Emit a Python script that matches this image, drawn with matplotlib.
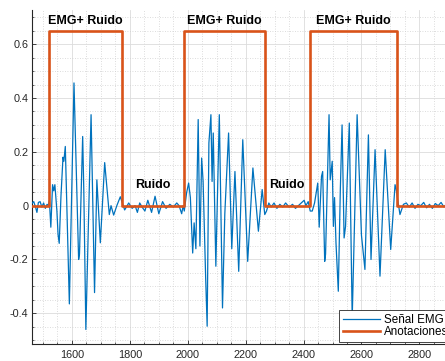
import matplotlib
matplotlib.use("Agg")
import matplotlib.pyplot as plt
from matplotlib.ticker import MultipleLocator, FixedLocator

plt.rcParams['font.family'] = ['Liberation Sans', 'DejaVu Sans']
plt.rcParams['axes.unicode_minus'] = False

# ---- data ----
emg_x = [1463, 1468, 1474, 1479, 1484, 1490, 1496, 1502, 1508, 1514, 1518,
         1522, 1527, 1533, 1537, 1541, 1548, 1552, 1556, 1562, 1569, 1572, 1577,
         1591, 1607, 1623, 1626, 1637, 1641, 1648, 1666, 1678, 1686, 1698, 1713,
         1729, 1735, 1744, 1755, 1767, 1782, 1796,
         1808, 1818, 1826, 1834, 1842, 1852, 1862, 1875, 1887, 1900, 1913, 1925,
         1938, 1950, 1962, 1970, 1979, 1984,
         1988, 1996, 2003, 2009, 2017, 2022, 2028, 2036, 2042, 2048, 2053, 2062,
         2067, 2073, 2080, 2084, 2088, 2097, 2109, 2120, 2128, 2141, 2152, 2163,
         2176, 2190, 2207, 2225, 2244, 2257, 2266, 2272, 2280,
         2288, 2298, 2308, 2318, 2328, 2338, 2350, 2362, 2372, 2382, 2392, 2402,
         2408, 2416, 2423,
         2430, 2438, 2449, 2454, 2462, 2466, 2473, 2476, 2488, 2492, 2499, 2503,
         2507, 2512, 2520, 2527, 2533, 2540, 2545, 2558, 2568, 2585, 2600, 2612,
         2624, 2633, 2647, 2664, 2682, 2701, 2716, 2720, 2733, 2745, 2755,
         2765, 2775, 2785, 2795, 2805, 2815, 2825, 2835, 2845, 2855, 2865, 2875,
         2885, 2895]
emg_y = [0.010, 0.015, -0.005, -0.025, 0.012, 0.015, -0.005, 0.010, -0.010, 0.005, 0.000,
         0.020, -0.080, 0.078, 0.055, 0.078, -0.020, -0.108, -0.140, 0.035, 0.180, 0.165, 0.220,
         -0.365, 0.456, -0.200, -0.180, 0.257, 0.050, -0.460, 0.338, -0.323, 0.096, -0.138, 0.160,
         -0.033, 0.000, -0.035, 0.000, 0.033, -0.016, 0.010,
         -0.010, 0.000, -0.025, 0.010, -0.005, -0.020, 0.020, -0.025, 0.035, -0.030, 0.015, -0.010,
         0.005, -0.005, 0.010, 0.000, -0.030, 0.000,
         -0.020, 0.048, 0.084, 0.030, -0.176, -0.064, -0.160, 0.320, -0.150, 0.177, 0.090, -0.275,
         -0.448, 0.233, 0.338, 0.090, 0.270, -0.225, 0.338, -0.380, -0.030, 0.270, -0.160, 0.127,
         -0.244, 0.245, -0.207, 0.140, -0.095, 0.060, -0.033, -0.020, 0.010,
         -0.005, 0.010, -0.010, 0.005, -0.005, 0.010, -0.005, 0.005, -0.010, 0.000, 0.010, 0.020,
         0.000, 0.015, -0.020,
         -0.020, 0.010, 0.084, -0.080, 0.109, 0.127, -0.207, -0.180, 0.338, 0.096, 0.165, -0.077,
         0.030, -0.138, -0.318, 0.060, 0.300, -0.120, -0.077, 0.307, -0.420, 0.338, -0.110, -0.237,
         0.263, -0.200, 0.208, -0.262, 0.208, -0.163, 0.078, 0.060, -0.033, 0.005, 0.010,
         -0.005, 0.010, -0.010, 0.005, 0.000, 0.012, -0.008, 0.005, -0.010, 0.008, 0.000, 0.012,
         -0.005, 0.008]

ann_edges = [1463, 1522, 1773, 1986, 2267, 2423, 2723, 2900]
ann_values = [0.0, 0.65, 0.0, 0.65, 0.0, 0.65, 0.0]

emg_label_x = [1647, 2126, 2573]
emg_label_text = 'EMG+ Ruido'
noise_label_x = [1880, 2342]
noise_label_text = 'Ruido'

legend_labels = ['Señal EMG', 'Anotaciones']

x_ticks = [1600, 1800, 2000, 2200, 2400, 2600, 2800]
y_ticks = [-0.4, -0.2, 0, 0.2, 0.4, 0.6]
y_tick_labels = ['-0.4', '-0.2', '0', '0.2', '0.4', '0.6']

# ---- figure ----
W, H = 445, 361
fig = plt.figure(figsize=(W / 100, H / 100), dpi=100)
x0, x1 = 1463, 2900
y0, y1 = -0.514, 0.727
px_per_x = 0.2895
left_px, bottom_px, top_px = 32.3, 344, 10
ax = fig.add_axes([left_px / W, (H - bottom_px) / H,
                   (x1 - x0) * px_per_x / W, (bottom_px - top_px) / H])

dark = '#262626'
blue = '#0072BD'
orange = '#D95319'

ax.plot(emg_x, emg_y, color=blue, lw=0.9, label=legend_labels[0], zorder=3)
step_x = ann_edges
step_y = ann_values + [ann_values[-1]]
ax.step(step_x, step_y, where='post', color=orange, lw=1.9,
        label=legend_labels[1], zorder=4)

for xc in emg_label_x:
    ax.text(xc, 0.686, emg_label_text, ha='center', va='center',
            fontsize=9, fontweight='bold', color='black', zorder=5)
for xc in noise_label_x:
    ax.text(xc, 0.077, noise_label_text, ha='center', va='center',
            fontsize=9, fontweight='bold', color='black', zorder=5)

ax.set_xlim(x0, x1)
ax.set_ylim(y0, y1)
ax.xaxis.set_major_locator(FixedLocator(x_ticks))
ax.yaxis.set_major_locator(FixedLocator(y_ticks))
ax.set_yticklabels(y_tick_labels)
ax.xaxis.set_minor_locator(MultipleLocator(50))
ax.yaxis.set_minor_locator(MultipleLocator(0.05))

ax.grid(True, which='major', color='#dcdcdc', lw=0.6, ls='-', zorder=0)
ax.grid(True, which='minor', color='#d0d0d0', lw=0.6, ls=(0, (1, 2)), zorder=0)
ax.set_axisbelow(True)

for s in ['top', 'right']:
    ax.spines[s].set_visible(False)
for s in ['left', 'bottom']:
    ax.spines[s].set_color(dark)
    ax.spines[s].set_linewidth(0.8)

ax.tick_params(which='major', direction='in', length=3, width=0.6,
               colors=dark, labelsize=7.8, labelcolor=dark)
ax.tick_params(which='minor', direction='in', length=1.5, width=0.5, colors=dark)
ax.tick_params(axis='x', which='major', pad=4)
ax.tick_params(axis='y', which='major', pad=3)

leg = ax.legend(loc='lower left', bbox_to_anchor=(339 / W, (H - 341.7) / H),
                bbox_transform=fig.transFigure, borderaxespad=0,
                fontsize=8.4, frameon=True, fancybox=False, framealpha=1,
                edgecolor=dark, borderpad=0.3, labelspacing=0.02,
                handlelength=3.2, handletextpad=0.35)
leg.get_frame().set_linewidth(0.6)
leg.set_zorder(10)

fig.savefig('out.png', dpi=100)
